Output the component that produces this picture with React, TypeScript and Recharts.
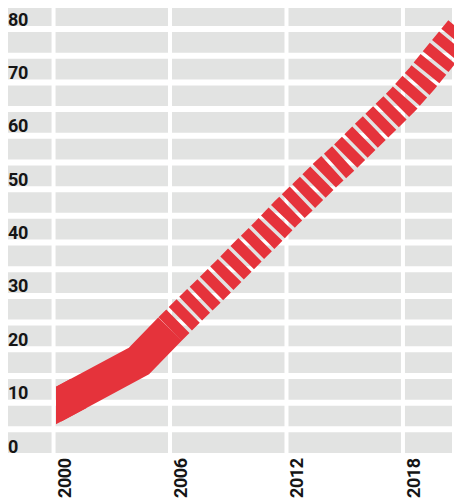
import React from 'react';
import { LineChart, Line, XAxis, YAxis, CartesianGrid } from 'recharts';

// x values (years); the kink in the solid stretch falls between 2004 and 2005
const years = [2000, 2004.4, 2006, 2007, 2008, 2009, 2010, 2011, 2012, 2013, 2014, 2015, 2016, 2017, 2018, 2019, 2020, 2021];
const actual = [9.2, 17.8, 23.8, null, null, null, null, null, null, null, null, null, null, null, null, null, null, null];
const projected = [null, null, 23.8, 27.4, 30.9, 34.5, 38.2, 41.8, 45.6, 49.1, 52.7, 56.0, 59.6, 63.1, 66.7, 70.8, 75.3, 79.7];

const yearTicks = [2000, 2006, 2012, 2018];
const valueTicks = [0, 5, 10, 15, 20, 25, 30, 35, 40, 45, 50, 55, 60, 65, 70, 75, 80];
const valueLabels = [0, 10, 20, 30, 40, 50, 60, 70, 80];

const data = years.map((year, i) => ({ year, actual: actual[i], projected: projected[i] }));

const W = 454;
const H = 502;
const RED = '#e5333b';
const GREY = '#e2e3e2';
const FONT = 'Roboto, "DejaVu Sans", sans-serif';

const YTick = ({ y, payload }: any) => {
  if (!valueLabels.includes(payload.value)) return <g />;
  return (
    <text x={8} y={y - 3.5} fill="#151515" fontFamily={FONT} fontWeight={700} fontSize={18} letterSpacing={-0.4} textAnchor="start">
      {payload.value}
    </text>
  );
};

const XTick = ({ x, payload }: any) => {
  const tx = x + 17;
  const ty = 498;
  return (
    <text x={tx} y={ty} transform={`rotate(-90, ${tx}, ${ty})`} fill="#151515" fontFamily={FONT} fontWeight={700} fontSize={18} letterSpacing={-0.4} textAnchor="start">
      {payload.value}
    </text>
  );
};

const App: React.FC = () => {
  return (
    <div style={{ position: 'absolute', left: 0, top: 0, width: W, height: H }}>
      {/* background, grid and labels */}
      <div style={{ position: 'absolute', left: 0, top: 0 }}>
        <LineChart width={W} height={H} data={data} margin={{ top: 5, right: 0, bottom: 0, left: 6 }}>
          <CartesianGrid fill={GREY} fillOpacity={1} stroke="#fff" strokeWidth={6} vertical={false} />
          <CartesianGrid stroke="#fff" strokeWidth={4} horizontal={false} />
          <XAxis type="number" dataKey="year" domain={[1997.55, 2020.63]} allowDataOverflow ticks={yearTicks} interval={0}
            height={46} axisLine={false} tickLine={false} tick={<XTick />} />
          <YAxis type="number" domain={[0, 84.5]} allowDataOverflow ticks={valueTicks} interval={0}
            mirror width={40} axisLine={false} tickLine={false} tick={<YTick />} />
        </LineChart>
      </div>
      {/* the band, clipped where the data begins */}
      <div style={{ position: 'absolute', left: 0, top: 0 }}>
        <LineChart width={W} height={H} data={data} margin={{ top: 5, right: 0, bottom: 46, left: 56 }}>
          <XAxis hide type="number" dataKey="year" domain={[2000.125, 2020.63]} allowDataOverflow />
          <YAxis hide type="number" domain={[0, 84.5]} allowDataOverflow />
          <Line type="linear" dataKey="actual" stroke={RED} strokeWidth={33} strokeLinecap="square" strokeDasharray="12 3000"
            dot={false} activeDot={false} isAnimationActive={false} />
          <Line type="linear" dataKey="actual" stroke={RED} strokeWidth={33}
            dot={false} activeDot={false} isAnimationActive={false} />
          <Line type="linear" dataKey="projected" stroke={RED} strokeWidth={33} strokeDasharray="11 3.5"
            dot={false} activeDot={false} isAnimationActive={false} />
        </LineChart>
      </div>
    </div>
  );
};

export default App;
